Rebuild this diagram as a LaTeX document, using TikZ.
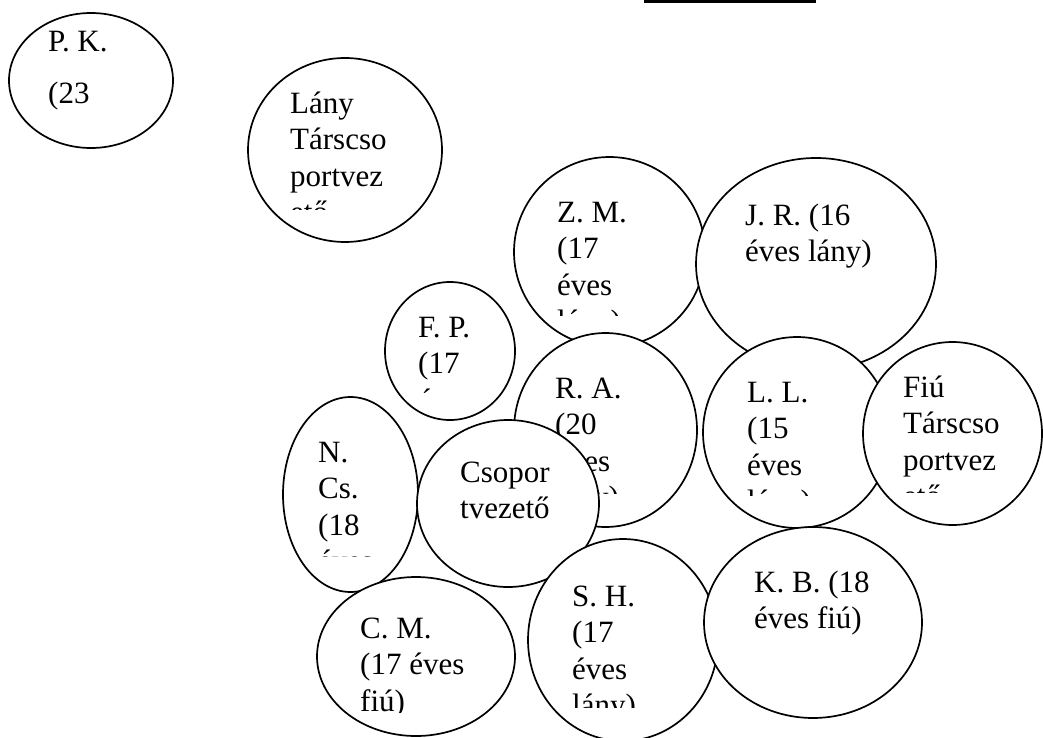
\documentclass[tikz,border=0pt]{standalone}
\usepackage{fontspec}
\setmainfont{Liberation Serif}
\usetikzlibrary{shapes.geometric}

\begin{document}
\begin{tikzpicture}[x=1pt, y=-1pt,
    bub/.style 2 args={ellipse, draw, fill=white, line width=1.7pt, inner sep=0pt,
                       minimum width=#1, minimum height=#2},
    lbl/.style={anchor=base west, align=left, inner sep=0pt,
                font=\fontsize{31}{36.5}\selectfont}]
  \useasboundingbox (0,0) rectangle (1043,738);
  \fill (644,0) rectangle (816,3);
  % members, drawn back to front; labels sit on their last baseline
  \node[bub={164}{135}] (pk) at (91,80.5) {};
  \begin{scope} \clip (9,13) rectangle (173,112);
    \node[lbl] (pkt) at (48,140) {P. K.\\[15pt](23\\éves}; \end{scope}
  \node[bub={194}{184}] (lany) at (345,150) {};
  \begin{scope} \clip (248,58) rectangle (442,209);
    \node[lbl] (lanyt) at (290,222.5) {Lány\\Társcso\\portvez\\ető}; \end{scope}
  \node[bub={191}{190}] (zm) at (609.5,252) {};
  \begin{scope} \clip (514,157) rectangle (705,315);
    \node[lbl] (zmt) at (557,331.5) {Z. M.\\(17\\éves\\lány)}; \end{scope}
  \node[bub={240}{212}] (jr) at (816,264) {};
  \node[lbl] (jrt) at (745,261.5) {J. R. (16\\éves lány)};
  \node[bub={130}{138}] (fp) at (450,351) {};
  \begin{scope} \clip (385,282) rectangle (515,392);
    \node[lbl] (fpt) at (418,410) {F. P.\\(17\\éves}; \end{scope}
  \node[bub={183}{194}] (ra) at (605.5,430) {};
  \begin{scope} \clip (514,333) rectangle (697,493);
    \node[lbl] (rat) at (555,507.5) {R. A.\\(20\\éves\\lány)}; \end{scope}
  \node[bub={188}{191}] (ll) at (797,432.5) {};
  \begin{scope} \clip (703,337) rectangle (891,495);
    \node[lbl] (llt) at (747,511.5) {L. L.\\(15\\éves\\lány)}; \end{scope}
  \node[bub={179}{183}] (fiu) at (952.5,433.5) {};
  \begin{scope} \clip (863,342) rectangle (1042,492);
    \node[lbl] (fiut) at (903,506.5) {Fiú\\Társcso\\portvez\\ető}; \end{scope}
  \node[bub={135}{195}] (ncs) at (350.5,494.5) {};
  \begin{scope} \clip (283,397) rectangle (418,556);
    \node[lbl] (ncst) at (318,571.5) {N.\\Cs.\\(18\\éves}; \end{scope}
  \node[bub={182}{167}] (csop) at (508,503.5) {};
  \node[lbl] (csopt) at (460,518.5) {Csopor\\tvezető};
  \node[bub={198}{159}] (cm) at (416,656.5) {};
  \begin{scope} \clip (317,577) rectangle (515,712);
    \node[lbl] (cmt) at (360,711) {C. M.\\(17 éves\\fiú)}; \end{scope}
  \node[bub={190}{202}] (sh) at (623,640) {};
  \begin{scope} \clip (528,539) rectangle (718,707);
    \node[lbl] (sht) at (572,715.5) {S. H.\\(17\\éves\\lány)}; \end{scope}
  \node[bub={218}{191}] (kb) at (813,622.5) {};
  \node[lbl] (kbt) at (754,628.5) {K. B. (18\\éves fiú)};
\end{tikzpicture}
\end{document}
